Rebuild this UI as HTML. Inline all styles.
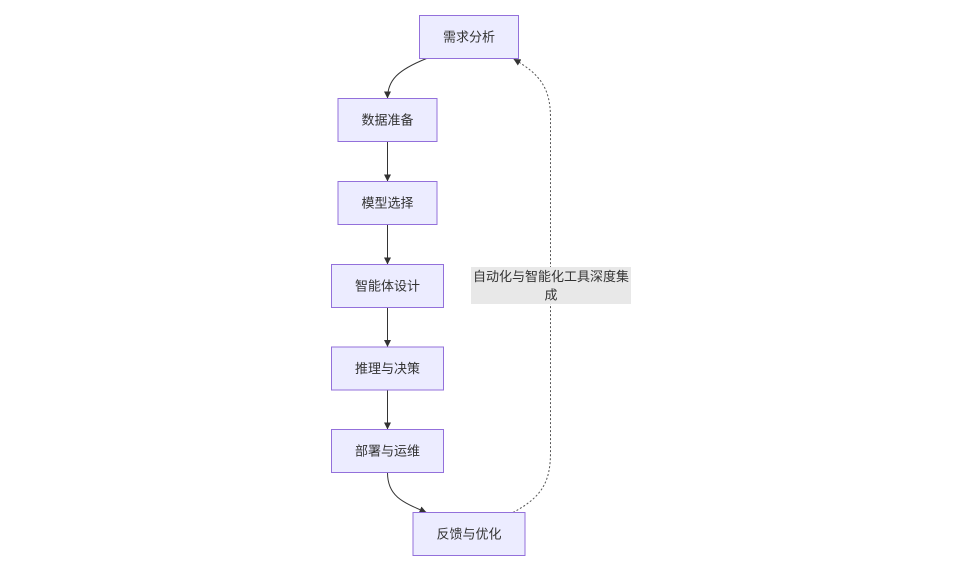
<!DOCTYPE html>
<html>
<head>
<meta charset="utf-8">
<style>
  html, body { margin: 0; padding: 0; background: #ffffff; }
  body { width: 960px; height: 574px; overflow: hidden; }
  svg { display: block; }
  text { font-family: "Liberation Sans", "Noto Sans CJK SC", "WenQuanYi Zen Hei", sans-serif; font-size: 13px; fill: #333333; }
</style>
</head>
<body>
<svg width="960" height="574" viewBox="0 0 960 574" xmlns="http://www.w3.org/2000/svg">
  <defs>
    <marker id="arr" viewBox="0 0 10 10" refX="10" refY="5" markerWidth="7" markerHeight="7" markerUnits="userSpaceOnUse" orient="auto">
      <path d="M0,0 L10,5 L0,10 z" fill="#333333"/>
    </marker>
  </defs>

  <!-- edges -->
  <g fill="none" stroke="#333333" stroke-width="1">
    <path d="M426.5,58.5 C398,70 387.5,80 387.5,98.5" marker-end="url(#arr)"/>
    <path d="M387.5,141.5 L387.5,181.5" marker-end="url(#arr)"/>
    <path d="M387.5,224.5 L387.5,264.5" marker-end="url(#arr)"/>
    <path d="M387.5,307.5 L387.5,347" marker-end="url(#arr)"/>
    <path d="M387.5,390 L387.5,429.5" marker-end="url(#arr)"/>
    <path d="M387.5,472.5 C387.5,496 402,502 426.5,512.5" marker-end="url(#arr)"/>
  </g>
  <path d="M513,512.5 C542,497 550.5,482 550.5,452 L550.5,118 C550.5,88 540,74 513.5,59" fill="none" stroke="#555555" stroke-width="1" stroke-dasharray="2,2" marker-end="url(#arr)"/>

  <!-- nodes -->
  <g fill="#ECECFF" stroke="#9370DB" stroke-width="1">
    <rect x="419.5" y="15.5" width="99" height="43"/>
    <rect x="338" y="98.5" width="99" height="43"/>
    <rect x="338" y="181.5" width="99" height="43"/>
    <rect x="331.5" y="264.5" width="112" height="43"/>
    <rect x="331.5" y="347" width="112" height="43"/>
    <rect x="331.5" y="429.5" width="112" height="43"/>
    <rect x="413" y="512.5" width="112" height="43"/>
  </g>

  <g text-anchor="middle" dominant-baseline="central">
    <text x="469" y="37">需求分析</text>
    <text x="387.5" y="120">数据准备</text>
    <text x="387.5" y="203">模型选择</text>
    <text x="387.5" y="286">智能体设计</text>
    <text x="387.5" y="368.5">推理与决策</text>
    <text x="387.5" y="451">部署与运维</text>
    <text x="469" y="534">反馈与优化</text>
  </g>

  <!-- edge label -->
  <rect x="471" y="267" width="160" height="37" fill="#E8E8E8"/>
  <g text-anchor="middle" dominant-baseline="central">
    <text x="551" y="276.5">自动化与智能化工具深度集</text>
    <text x="551" y="295">成</text>
  </g>
</svg>
</body>
</html>
